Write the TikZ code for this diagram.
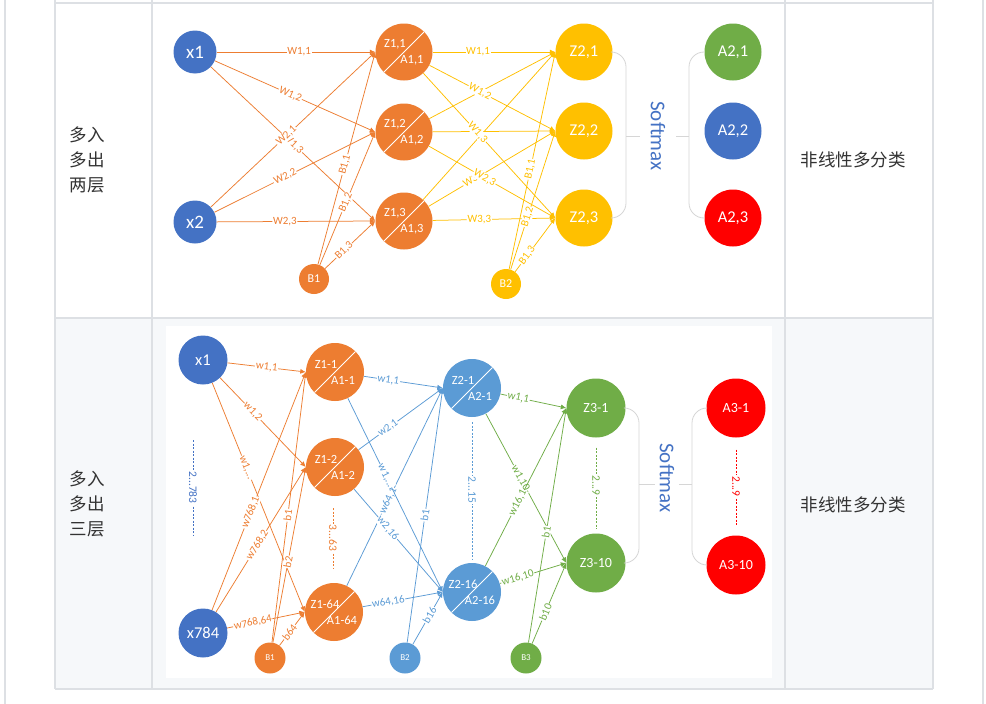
\documentclass[tikz,border=0pt]{standalone}
\usepackage{fontspec}
\setmainfont{Carlito}
\newfontfamily\cjk{Noto Sans CJK SC}
\usepackage{tikz}
\usetikzlibrary{arrows.meta}

\definecolor{inblue}{HTML}{4472C4}
\definecolor{nnorange}{HTML}{ED7D31}
\definecolor{nngold}{HTML}{FFC000}
\definecolor{nngreen}{HTML}{70AD47}
\definecolor{nnred}{HTML}{FF0000}
\definecolor{nnsky}{HTML}{5B9BD5}
\definecolor{gridgray}{HTML}{DDE0E4}
\definecolor{rowgray}{HTML}{F6F8FA}
\definecolor{bracegray}{HTML}{D6D6D6}
\definecolor{cjktext}{HTML}{333333}

\begin{document}
\begin{tikzpicture}[x=1pt, y=-1pt,
  neuron/.style={circle, inner sep=0pt, text=white},
  split/.style={neuron, path picture={\draw[white, line width=0.9pt] (path picture bounding box.south west) -- (path picture bounding box.north east);}},
  ztxt/.style={label={[text=white, font=\fontsize{12.5}{12.5}\selectfont, xshift=-9pt, yshift=8pt]center:#1}},
  atxt/.style={label={[text=white, font=\fontsize{12.5}{12.5}\selectfont, xshift=8pt, yshift=-8pt]center:#1}},
  inone/.style={neuron, fill=inblue, minimum size=43pt, font=\fontsize{19}{19}\selectfont},
  hidone/.style={split, fill=nnorange, minimum size=57pt},
  outone/.style={neuron, minimum size=57pt, font=\fontsize{16.5}{16.5}\selectfont},
  biasone/.style={neuron, minimum size=30pt, font=\fontsize{12}{12}\selectfont},
  intwo/.style={neuron, fill=inblue, minimum size=49pt, font=\fontsize{16.5}{16.5}\selectfont},
  hidtwo/.style={split, minimum size=58pt},
  outtwo/.style={neuron, minimum size=59pt, font=\fontsize{14}{14}\selectfont},
  biastwo/.style={neuron, minimum size=31pt, font=\fontsize{9}{9}\selectfont},
  wire/.style={-{Latex[length=5.5pt,width=5pt]}, line width=0.75pt},
  wlab/.style={sloped, fill=white, inner sep=0.7pt, font=\fontsize{11}{11}\selectfont},
  gap/.style={dash pattern=on 2pt off 1.5pt, line width=0.75pt},
  gaplab/.style={rotate=-90, fill=white, inner sep=1pt, font=\fontsize{11.5}{11.5}\selectfont},
  brace/.style={draw=bracegray, line width=0.8pt, rounded corners=15pt},
  softmax/.style={rotate=-90, text=inblue, font=\fontsize{21}{21}\selectfont},
  rowlab/.style={text=cjktext, font=\cjk\fontsize{17.5}{25}\selectfont, align=left},
  grid/.style={draw=gridgray, line width=1.3pt}
]
\useasboundingbox (0,0) rectangle (986,704);
% table
\fill[white] (0,0) rectangle (986,704);
\fill[rowgray] (55,318) rectangle (933,689);
\fill[white] (166,326) rectangle (772,678);
\draw[grid] (55,3) -- (933,3) (55,318) -- (933,318) (55,689) -- (933,689);
\draw[grid] (55,0) -- (55,689) (152,0) -- (152,689) (785,0) -- (785,689) (933,0) -- (933,689);
\draw[grid] (5,0) -- (5,704) (983,0) -- (983,704);

\node[rowlab] (r1l) at (87,160) {多入\\多出\\两层};
\node[rowlab] (r2l) at (87,504) {多入\\多出\\三层};
\node[rowlab] (r1r) at (853,160) {非线性多分类};
\node[rowlab] (r2r) at (853,505) {非线性多分类};

% two layers
\node[inone] (x1) at (195,52) {x1};
\node[inone] (x2) at (195,222) {x2};
\node[hidone, ztxt={Z1,1}, atxt={A1,1}] (z11) at (404,52) {};
\node[hidone, ztxt={Z1,2}, atxt={A1,2}] (z12) at (404,132) {};
\node[hidone, ztxt={Z1,3}, atxt={A1,3}] (z13) at (404,221) {};
\node[biasone, fill=nnorange] (b1) at (314,279) {B1};
\node[outone, fill=nngold] (z21) at (584,52) {Z2,1};
\node[outone, fill=nngold] (z22) at (584,131) {Z2,2};
\node[outone, fill=nngold] (z23) at (584,218) {Z2,3};
\node[biasone, fill=nngold] (b2) at (506,284) {B2};
\node[outone, fill=nngreen] (a21) at (733,52) {A2,1};
\node[outone, fill=inblue] (a22) at (733,131) {A2,2};
\node[outone, fill=nnred] (a23) at (733,218) {A2,3};
\node[softmax] (sm1) at (658,136) {Softmax};

\draw[wire, nnorange] (x1) -- node[wlab, pos=0.52]{W1,1} (z11.west);
\draw[wire, nnorange] (x1) -- node[wlab, pos=0.47]{W1,2} (z12.west);
\draw[wire, nnorange] (x1) -- node[wlab, pos=0.5]{W1,3} (z13.west);
\draw[wire, nnorange] (x2) -- node[wlab, pos=0.46]{W2,1} (z11.west);
\draw[wire, nnorange] (x2) -- node[wlab, pos=0.44]{W2,2} (z12.west);
\draw[wire, nnorange] (x2) -- node[wlab, pos=0.43]{W2,3} (z13.west);
\draw[wire, nnorange] (b1) -- node[wlab, pos=0.47]{B1,1} (z11.west);
\draw[wire, nnorange] (b1) -- node[wlab, pos=0.47]{B1,2} (z12.west);
\draw[wire, nnorange] (b1) -- node[wlab, pos=0.38]{B1,3} (z13.west);

\draw[wire, nngold] (z11) -- node[wlab, pos=0.37]{W1,1} (z21.west);
\draw[wire, nngold] (z12) -- (z21.west);
\draw[wire, nngold] (z13) -- (z21.west);
\draw[wire, nngold] (z12) -- (z22.west);
\draw[wire, nngold] (z11) -- node[wlab, pos=0.4]{W1,2} (z22.west);
\draw[wire, nngold] (z13) -- node[wlab, pos=0.36]{W3,2} (z22.west);
\draw[wire, nngold] (z11) -- node[wlab, pos=0.41]{W1,3} (z23.west);
\draw[wire, nngold] (z12) -- node[wlab, pos=0.44]{W2,3} (z23.west);
\draw[wire, nngold] (z13) -- node[wlab, pos=0.38]{W3,3} (z23.west);
\draw[wire, nngold] (b2) -- node[wlab, pos=0.46]{B1,1} (z21.west);
\draw[wire, nngold] (b2) -- node[wlab, pos=0.38]{B1,2} (z22.west);
\draw[wire, nngold] (b2) -- node[wlab, pos=0.3]{B1,3} (z23.west);

\draw[brace] (z21.east) -| (626,136) |- (z23.east);
\draw[brace] (a21.west) -| (689,136) |- (a23.west);
\draw[brace] (626,136) -- (640,136) (676,136) -- (689,136);

% three layers
\node[intwo] (u1) at (203,360) {x1};
\node[intwo] (u784) at (203,633) {x784};
\node[hidtwo, fill=nnorange, ztxt={Z1-1}, atxt={A1-1}] (h11) at (335,372) {};
\node[hidtwo, fill=nnorange, ztxt={Z1-2}, atxt={A1-2}] (h12) at (335,467) {};
\node[hidtwo, fill=nnorange, ztxt={Z1-64}, atxt={A1-64}] (h164) at (334,612) {};
\node[biastwo, fill=nnorange] (c1) at (270,658) {B1};
\node[hidtwo, fill=nnsky, ztxt={Z2-1}, atxt={A2-1}] (h21) at (472,388) {};
\node[hidtwo, fill=nnsky, ztxt={Z2-16}, atxt={A2-16}] (h216) at (472,592) {};
\node[biastwo, fill=nnsky] (c2) at (405,658) {B2};
\node[outtwo, fill=nngreen] (h31) at (596,408) {Z3-1};
\node[outtwo, fill=nngreen] (h310) at (596,563) {Z3-10};
\node[biastwo, fill=nngreen] (c3) at (526,658) {B3};
\node[outtwo, fill=nnred] (o31) at (736,408) {A3-1};
\node[outtwo, fill=nnred] (o310) at (736,565) {A3-10};
\node[softmax] (sm2) at (667,478) {Softmax};

\draw[wire, nnorange] (u1) -- node[wlab, pos=0.5]{w1,1} (h11.west);
\draw[wire, nnorange] (u1) -- node[wlab, pos=0.38]{w1,2} (h12.west);
\draw[wire, nnorange] (u1) -- node[wlab, pos=0.37]{w1,...} (h164.west);
\draw[wire, nnorange] (u784) -- node[wlab, pos=0.41]{w768,1} (h11.west);
\draw[wire, nnorange] (u784) -- node[wlab, pos=0.46]{w768,2} (h12.west);
\draw[wire, nnorange] (u784) -- node[wlab, pos=0.33]{w768,64} (h164.west);
\draw[wire, nnorange] (c1) -- node[wlab, pos=0.47]{b1} (h11.west);
\draw[wire, nnorange] (c1) -- node[wlab, pos=0.46]{b2} (h12.west);
\draw[wire, nnorange] (c1) -- node[wlab, pos=0.4]{b64} (h164.west);

\draw[wire, nnsky] (h11) -- node[wlab, pos=0.31]{w1,1} (h21.west);
\draw[wire, nnsky] (h12) -- node[wlab, pos=0.35]{w2,1} (h21.west);
\draw[wire, nnsky] (h164) -- node[wlab, pos=0.43]{w64,1} (h21.west);
\draw[wire, nnsky] (h11) -- node[wlab, pos=0.4]{w1,...} (h216.west);
\draw[wire, nnsky] (h12) -- node[wlab, pos=0.38]{w2,16} (h216.west);
\draw[wire, nnsky] (h164) -- node[wlab, pos=0.32]{w64,16} (h216.west);
\draw[wire, nnsky] (c2) -- node[wlab, pos=0.5]{b1} (h21.west);
\draw[wire, nnsky] (c2) -- node[wlab, pos=0.56]{b16} (h216.west);

\draw[wire, nngreen] (h21) -- node[wlab, pos=0.27]{w1,1} (h31.west);
\draw[wire, nngreen] (h21) -- node[wlab, pos=0.43]{w1,10} (h310.west);
\draw[wire, nngreen] (h216) -- node[wlab, pos=0.4]{w16,1} (h31.west);
\draw[wire, nngreen] (h216) -- node[wlab, pos=0.27]{w16,10} (h310.west);
\draw[wire, nngreen] (c3) -- node[wlab, pos=0.47]{b1} (h31.west);
\draw[wire, nngreen] (c3) -- node[wlab, pos=0.39]{b10} (h310.west);

\coordinate (g1t) at (193,440);
\coordinate (g1b) at (193,535);
\coordinate (g2t) at (333,508);
\coordinate (g2b) at (333,568);
\draw[gap, inblue] (g1t) -- node[gaplab]{2...783} (g1b);
\draw[gap, nnorange] (g2t) -- node[gaplab]{3...63} (g2b);
\draw[gap, nnsky, shorten <=5pt, shorten >=3pt] (h21) -- node[gaplab]{2...15} (h216);
\draw[gap, nngreen, shorten <=10pt, shorten >=5pt] (h31) -- node[gaplab]{2...9} (h310);
\draw[gap, nnred, shorten <=12pt, shorten >=10pt] (o31) -- node[gaplab]{2...9} (o310);

\draw[brace] (h31.east) -| (639,484) |- (h310.east);
\draw[brace] (o31.west) -| (692,484) |- (o310.west);
\draw[brace] (639,484) -- (655,484) (679,484) -- (692,484);
\end{tikzpicture}
\end{document}
